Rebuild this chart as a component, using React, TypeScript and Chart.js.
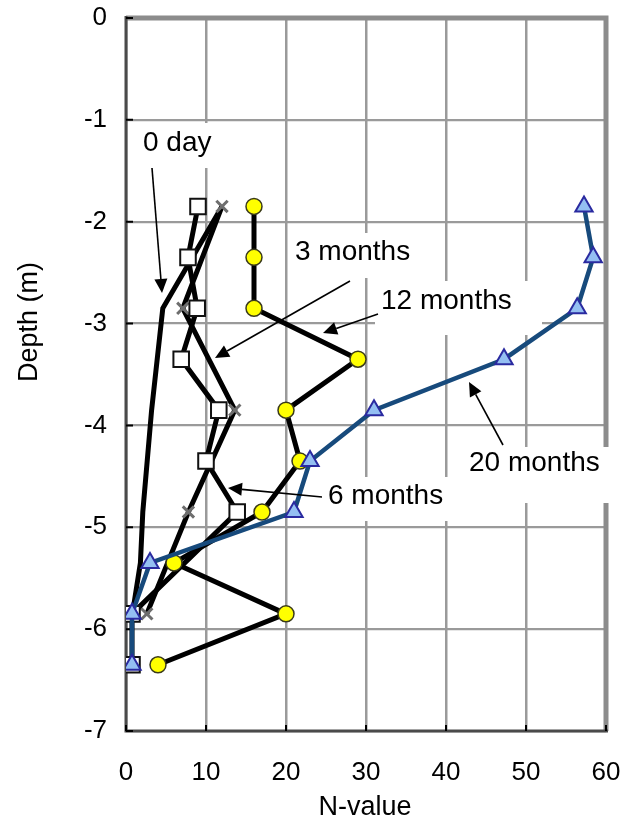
import React, { useEffect, useRef } from "react";
import { Chart, registerables } from "chart.js";

Chart.register(...registerables);

// Depth (m) of each SPT reading and the N-values measured at each stage
const fullDepths = [-1.85, -2.35, -2.85, -3.35, -3.85, -4.35, -4.85, -5.35, -5.85, -6.35];

const day0Depths = [-1.85, -2.85, -3.85, -4.85, -5.35, -5.85];
const day0N = [12, 4.6, 3.2, 2.1, 1.8, 0.8];

const month3Depths = [-1.85, -2.85, -3.85, -4.85, -5.85];
const month3N = [12, 7.1, 13.6, 7.8, 2.6];

const month6Depths = [-1.85, -2.35, -2.85, -3.35, -3.85, -4.35, -4.85, -5.85, -6.35];
const month6N = [9, 7.75, 8.9, 6.9, 11.6, 10, 13.9, 0.75, 0.75];

const month12N = [16, 16, 16, 29, 20, 21.75, 17, 6, 20, 4];

const month20N = [57.25, 58.4, 56.4, 47.25, 31, 23, 21, 3, 0.75, 0.75];

const xTicks = [0, 10, 20, 30, 40, 50, 60];
const yTicks = [0, -1, -2, -3, -4, -5, -6, -7];

const FONT = '"Liberation Sans", Arial, sans-serif';

const pts = (depths: number[], n: number[]) => depths.map((d, i) => ({ x: n[i], y: d }));

// callout labels with their arrows
type Callout = {
  text: string;
  tx: number;
  ty: number;
  box: [number, number, number, number];
  from: [number, number];
  to: [number, number];
};

const callouts: Callout[] = [
  { text: "0 day", tx: 143, ty: 143, box: [138, 123, 80, 45], from: [152, 168], to: [162, 293] },
  { text: "3 months", tx: 295, ty: 252, box: [290, 233, 128, 45], from: [350, 281], to: [215, 358] },
  { text: "12 months", tx: 381, ty: 301, box: [375, 281, 167, 54], from: [378, 314], to: [323, 333] },
  { text: "20 months", tx: 469, ty: 463, box: [464, 447, 146, 56], from: [503, 445], to: [469, 382] },
  { text: "6 months", tx: 328, ty: 496, box: [322, 477, 128, 44], from: [322, 497], to: [228, 488] },
];

function drawArrow(ctx: CanvasRenderingContext2D, from: [number, number], to: [number, number]) {
  const [x1, y1] = from;
  const [x2, y2] = to;
  const ang = Math.atan2(y2 - y1, x2 - x1);
  const len = 14;
  const half = 6.5;
  const bx = x2 - Math.cos(ang) * len;
  const by = y2 - Math.sin(ang) * len;
  ctx.strokeStyle = "#000";
  ctx.lineWidth = 1.6;
  ctx.beginPath();
  ctx.moveTo(x1, y1);
  ctx.lineTo(bx, by);
  ctx.stroke();
  ctx.fillStyle = "#000";
  ctx.beginPath();
  ctx.moveTo(x2, y2);
  ctx.lineTo(bx - Math.sin(ang) * half, by + Math.cos(ang) * half);
  ctx.lineTo(bx + Math.sin(ang) * half, by - Math.cos(ang) * half);
  ctx.closePath();
  ctx.fill();
}

const decorPlugin = {
  id: "decor",
  beforeDatasetsDraw(chart: any) {
    const { ctx, chartArea: a, scales } = chart;
    ctx.save();
    // plot frame: grey top/right, dark axes left/bottom
    ctx.strokeStyle = "#8c8c8c";
    ctx.lineWidth = 5;
    ctx.beginPath();
    ctx.moveTo(a.left, a.top);
    ctx.lineTo(a.right, a.top);
    ctx.lineTo(a.right, a.bottom);
    ctx.stroke();
    ctx.strokeStyle = "#4a4a4a";
    ctx.lineWidth = 3;
    ctx.beginPath();
    ctx.moveTo(a.left, a.top - 2);
    ctx.lineTo(a.left, a.bottom);
    ctx.lineTo(a.right + 2, a.bottom);
    ctx.stroke();
    // inward tick marks
    ctx.strokeStyle = "#000";
    ctx.lineWidth = 2;
    ctx.beginPath();
    xTicks.forEach((v) => {
      const x = scales.x.getPixelForValue(v);
      ctx.moveTo(x, a.bottom);
      ctx.lineTo(x, a.bottom - 6);
    });
    yTicks.forEach((v) => {
      const y = scales.y.getPixelForValue(v);
      ctx.moveTo(a.left, y);
      ctx.lineTo(a.left + 7, y);
    });
    ctx.stroke();
    // white label boxes
    ctx.fillStyle = "#fff";
    callouts.forEach((c) => {
      const [bx, by, bw, bh] = c.box;
      ctx.fillRect(bx, by, bw, bh);
    });
    ctx.restore();
  },
  afterDatasetsDraw(chart: any) {
    const { ctx } = chart;
    ctx.save();
    ctx.font = `28px ${FONT}`;
    ctx.textAlign = "left";
    ctx.textBaseline = "middle";
    ctx.fillStyle = "#000";
    callouts.forEach((c) => {
      ctx.fillText(c.text, c.tx, c.ty);
    });
    callouts.forEach((c) => drawArrow(ctx, c.from, c.to));
    // axis titles
    ctx.fillStyle = "#000";
    ctx.font = `27px ${FONT}`;
    ctx.textAlign = "center";
    ctx.fillText("N-value", 365, 808);
    ctx.translate(30, 322);
    ctx.rotate(-Math.PI / 2);
    ctx.fillText("Depth (m)", 0, 0);
    ctx.restore();
  },
};

// drop the label overhang so the plot area sits exactly inside the layout padding
const noOverhang = (s: any) => {
  s.paddingTop = 0;
  s.paddingBottom = 0;
  s.paddingLeft = 0;
  s.paddingRight = 0;
};

export default function App() {
  const ref = useRef<HTMLCanvasElement | null>(null);

  useEffect(() => {
    document.body.style.margin = "0";
    const canvas = ref.current;
    if (!canvas) return;
    const black = "#000000";
    const chart = new Chart(canvas, {
      type: "scatter",
      data: {
        datasets: [
          {
            label: "20 months",
            data: pts(fullDepths, month20N),
            showLine: true,
            borderColor: "#174a7c",
            borderWidth: 4.5,
            pointStyle: "triangle",
            pointRadius: 10,
            pointBackgroundColor: "#94bff2",
            pointBorderColor: "#2a2aa0",
            pointBorderWidth: 2,
            order: 0,
          },
          {
            label: "12 months",
            data: pts(fullDepths, month12N),
            showLine: true,
            borderColor: black,
            borderWidth: 5,
            pointStyle: "circle",
            pointRadius: 8,
            pointBackgroundColor: "#ffff00",
            pointBorderColor: "#3a3a1a",
            pointBorderWidth: 1.5,
            order: 1,
          },
          {
            label: "6 months",
            data: pts(month6Depths, month6N),
            showLine: true,
            borderColor: black,
            borderWidth: 5,
            pointStyle: "rect",
            pointRadius: 11,
            pointBackgroundColor: "#ffffff",
            pointBorderColor: "#111",
            pointBorderWidth: 2,
            order: 2,
          },
          {
            label: "3 months",
            data: pts(month3Depths, month3N),
            showLine: true,
            borderColor: black,
            borderWidth: 5,
            pointStyle: "crossRot",
            pointRadius: 8,
            pointBorderColor: "#6e6e6e",
            pointBorderWidth: 3,
            order: 3,
          },
          {
            label: "0 day",
            data: pts(day0Depths, day0N),
            showLine: true,
            borderColor: black,
            borderWidth: 5,
            pointRadius: 0,
            order: 4,
          },
        ],
      },
      options: {
        animation: false,
        responsive: false,
        maintainAspectRatio: false,
        layout: { padding: { top: 18, right: 23, left: 0, bottom: 0 } },
        plugins: {
          legend: { display: false },
          tooltip: { enabled: false },
        },
        scales: {
          x: {
            type: "linear",
            min: 0,
            max: 60,
            afterBuildTicks: (s: any) => {
              s.ticks = xTicks.map((v) => ({ value: v }));
            },
            ticks: {
              color: "#000",
              font: { family: FONT, size: 26 },
              padding: 26,
              maxRotation: 0,
            },
            grid: { color: "#9a9a9a", lineWidth: 2.5, drawTicks: false },
            border: { display: false },
            afterFit: (s: any) => {
              s.height = 96;
              noOverhang(s);
            },
          },
          y: {
            type: "linear",
            min: -7,
            max: 0,
            afterBuildTicks: (s: any) => {
              s.ticks = yTicks.map((v) => ({ value: v }));
            },
            ticks: {
              color: "#000",
              font: { family: FONT, size: 26 },
              padding: 19,
            },
            grid: { color: "#9a9a9a", lineWidth: 2.2, drawTicks: false },
            border: { display: false },
            afterFit: (s: any) => {
              s.width = 126;
              noOverhang(s);
            },
          },
        },
      },
      plugins: [decorPlugin],
    } as any);
    return () => chart.destroy();
  }, []);

  return (
    <div style={{ position: "absolute", left: 0, top: 0, width: 629, height: 827, background: "#fff" }}>
      <canvas ref={ref} width={629} height={827} style={{ display: "block", width: 629, height: 827 }} />
    </div>
  );
}
